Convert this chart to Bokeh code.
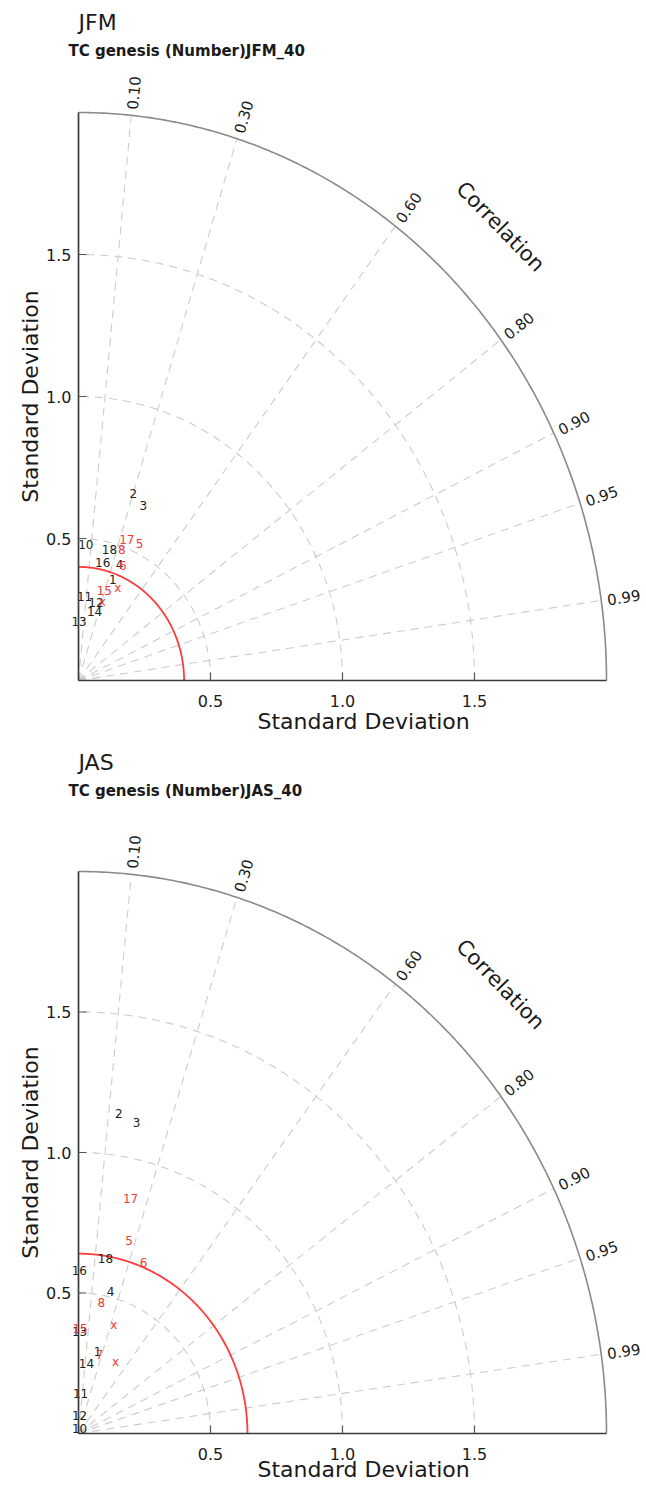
import numpy as np
from bokeh.plotting import figure
from bokeh.models import ColumnDataSource, Label, Range1d
from bokeh.layouts import column
from bokeh.embed import file_html
from bokeh.resources import INLINE
from bokeh.core.properties import value

FONT = "DejaVu Sans"

# ---- shared diagram settings ----
cor_labels = [0.10, 0.30, 0.60, 0.80, 0.90, 0.95, 0.99]
std_ticks = [0.5, 1.0, 1.5]
std_tick_labels = ["0.5", "1.0", "1.5"]
std_max = 2.0

# ---- JFM panel (std, correlation) ----
jfm_labels = ["2", "3", "10", "17", "5", "18", "8", "16", "4", "6", "1", "15", "x",
              "11", "12", "x", "14", "13"]
jfm_std = [0.690, 0.663, 0.480, 0.528, 0.534, 0.476, 0.489, 0.427, 0.436, 0.438, 0.379,
           0.332, 0.358, 0.297, 0.284, 0.290, 0.249, 0.209]
jfm_cor = [0.301, 0.371, 0.058, 0.347, 0.433, 0.246, 0.335, 0.215, 0.356, 0.383, 0.343,
           0.295, 0.416, 0.077, 0.232, 0.310, 0.245, 0.010]
jfm_color = ["k", "k", "k", "r", "r", "k", "r", "k", "k", "r", "k", "r", "r",
             "k", "k", "r", "k", "k"]
jfm_ref_std = 0.40

# ---- JAS panel (std, correlation) ----
jas_labels = ["2", "3", "17", "5", "18", "6", "16", "4", "8", "x", "13", "15",
              "1", "7", "14", "x", "11", "12", "10"]
jas_std = [1.150, 1.130, 0.858, 0.713, 0.630, 0.658, 0.579, 0.520, 0.473, 0.410, 0.362,
           0.372, 0.299, 0.291, 0.250, 0.290, 0.141, 0.064, 0.017]
jas_cor = [0.133, 0.195, 0.230, 0.268, 0.162, 0.375, 0.005, 0.233, 0.182, 0.327, 0.011,
           0.016, 0.241, 0.275, 0.120, 0.483, 0.057, 0.063, 0.230]
jas_color = ["k", "k", "r", "r", "k", "r", "k", "k", "r", "r", "k", "r",
             "k", "r", "k", "r", "k", "k", "k"]
jas_ref_std = 0.64

COLORS = {"k": "#222222", "r": "#f2383a"}
GRID = "#cccccc"
TXT = "#1a1a1a"
W = 646
SX = 264.0   # pixels per std unit, horizontal


def lab(p, x, y, text, size, align="left", angle=0.0, style="normal"):
    p.add_layout(Label(x=x, y=y, text=text, angle=angle, text_align=align,
                       text_baseline="middle", text_font=FONT, text_font_style=style,
                       text_font_size=size, text_color=TXT))


def panel(title, subtitle, labels, std, cor, colors, ref_std, sy, height, oy, xlab_off):
    # oy: pixel row of the origin inside this figure
    sx = SX
    ox = 78.0
    p = figure(width=W, height=height,
               x_range=Range1d(-ox / sx, (W - ox) / sx),
               y_range=Range1d(-(height - oy) / sy, oy / sy),
               output_backend="svg", toolbar_location=None,
               x_axis_location=None, y_axis_location=None,
               min_border=0)
    p.outline_line_color = None
    p.xgrid.visible = False
    p.ygrid.visible = False

    th = np.linspace(0, np.pi / 2, 240)
    # std dev dashed arcs
    p.multi_line([list(r * np.cos(th)) for r in std_ticks],
                 [list(r * np.sin(th)) for r in std_ticks],
                 line_color=GRID, line_dash="8 6", line_width=1.1)
    # radial correlation lines
    xs, ys = [], []
    for c in cor_labels:
        t = np.arccos(c)
        xs.append([0, std_max * np.cos(t)])
        ys.append([0, std_max * np.sin(t)])
    p.multi_line(xs, ys, line_color=GRID, line_dash="8 6", line_width=1.1)
    # outer arc
    p.line(std_max * np.cos(th), std_max * np.sin(th), line_color="#8a8a8a", line_width=1.6)
    # reference std arc
    p.line(ref_std * np.cos(th), ref_std * np.sin(th), line_color="#ff3b3b", line_width=1.8)

    # points drawn as their labels
    s = np.array(std)
    c = np.array(cor)
    src = ColumnDataSource(dict(x=s * c, y=s * np.sqrt(1 - c ** 2), text=labels,
                                color=[COLORS[k] for k in colors]))
    p.text(x="x", y="y", text="text", source=src, text_color="color",
           text_font_size="12px", text_align="center", text_baseline="middle",
           text_font=value(FONT))

    # axes (drawn on top)
    p.line([0, 0], [0, std_max], line_color="#3a3a3a", line_width=1.7)
    p.line([0, std_max], [0, 0], line_color="#3a3a3a", line_width=1.7)
    p.segment(x0=[0] * 3, y0=std_ticks, x1=[8 / sx] * 3, y1=std_ticks,
              line_color="#555555", line_width=1.2)
    p.segment(x0=std_ticks, y0=[0] * 3, x1=std_ticks, y1=[8 / sy] * 3,
              line_color="#555555", line_width=1.2)
    for t, tl in zip(std_ticks, std_tick_labels):
        lab(p, -7 / sx, t, tl, "16px", align="right")
        lab(p, t, -20 / sy, tl, "16px", align="center")

    # correlation tick labels
    for cl in cor_labels:
        t = np.arccos(cl)
        phi = np.arctan2(sy * np.sin(t), sx * np.cos(t))
        scale = np.hypot(sx * np.cos(t), sy * np.sin(t))
        R = std_max + 6.0 / scale
        lab(p, R * np.cos(t), R * np.sin(t), f"{cl:.2f}", "15px", angle=phi)
    lab(p, 1.598, 1.598, "Correlation", "21px", align="center", angle=-0.80)

    # axis titles
    lab(p, -48.0 / sx, 1.0, "Standard Deviation", "22px", align="center", angle=np.pi / 2)
    lab(p, 1.08, -xlab_off / sy, "Standard Deviation", "22px", align="center")
    # titles
    lab(p, 0.0, (oy - 22) / sy, title, "22px")
    lab(p, -10.0 / sx, (oy - 50) / sy, subtitle, "15px", style="bold")
    return p


p1 = panel("JFM", "TC genesis (Number)JFM_40", jfm_labels, jfm_std, jfm_cor, jfm_color,
           jfm_ref_std, 284.0, 740, 680.0, 41.0)
p2 = panel("JAS", "TC genesis (Number)JAS_40", jas_labels, jas_std, jas_cor, jas_color,
           jas_ref_std, 281.0, 744, 693.0, 36.0)

layout = column(p1, p2, spacing=0)
open("out.html", "w").write(file_html(layout, INLINE))
